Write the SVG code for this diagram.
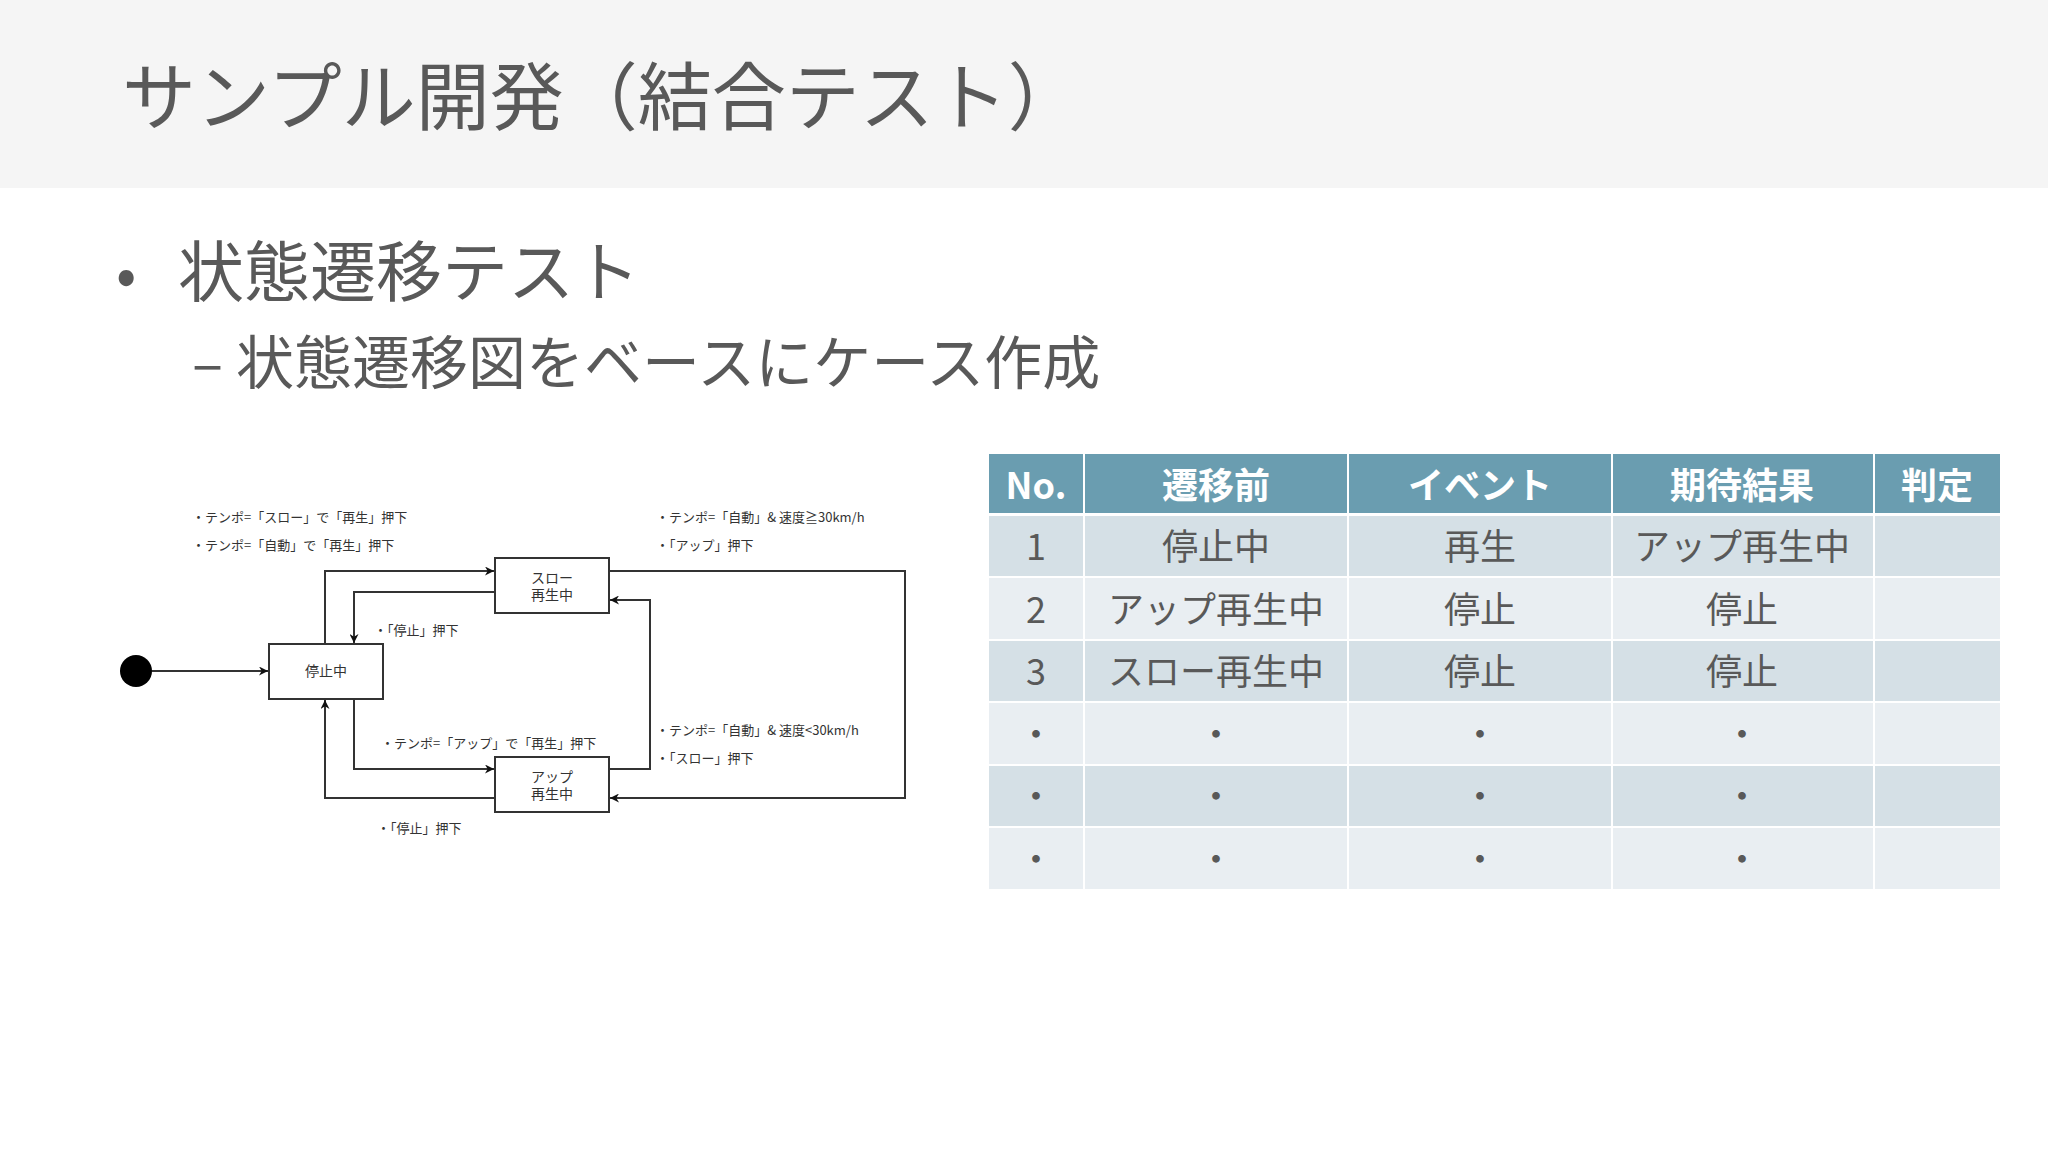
<svg xmlns="http://www.w3.org/2000/svg" width="2048" height="1152" viewBox="0 0 2048 1152">
<defs>
<marker id="ah" viewBox="0 0 10 10" refX="10" refY="5" markerWidth="9" markerHeight="9" orient="auto" markerUnits="userSpaceOnUse"><path d="M0,0 L10,5 L0,10 L3,5 z" fill="#111"/></marker>
<style>
.t{font-family:"Noto Sans CJK JP","Noto Sans",sans-serif;fill:#595959}
.d{font-family:"Noto Sans CJK JP",sans-serif;font-size:13px;fill:#333}
.b{font-family:"Noto Sans CJK JP",sans-serif;font-size:14px;fill:#333;text-anchor:middle}
.box{fill:#fff;stroke:#333;stroke-width:2}
.c{fill:none;stroke:#333;stroke-width:2;marker-end:url(#ah)}
.h{font-family:"Noto Sans CJK JP",sans-serif;font-size:36px;font-weight:bold;fill:#fff;text-anchor:middle}
.r{font-family:"Noto Sans CJK JP",sans-serif;font-size:36px;fill:#595959;text-anchor:middle}
.hd{fill:#6a9db0}.dk{fill:#d5e0e6}.lt{fill:#e9eef2}
</style>
</defs>
<rect width="2048" height="1152" fill="#fff"/>
<rect width="2048" height="188" fill="#f5f5f5"/>
<text class="t" x="122" y="124" font-size="74">サンプル開発（結合テスト）</text>
<text class="t" x="116" y="296" font-size="60">•</text>
<text class="t" x="178" y="296" font-size="66">状態遷移テスト</text>
<text class="t" x="192" y="384" font-size="58">– 状態遷移図をベースにケース作成</text>

<g id="connectors">
<line class="c" x1="152" y1="671" x2="268" y2="671"/>
<polyline class="c" points="325,644 325,571 494,571"/>
<polyline class="c" points="495,592 354,592 354,643"/>
<polyline class="c" points="354,699 354,769 494,769"/>
<polyline class="c" points="495,798 325,798 325,700"/>
<polyline class="c" points="609,571 905,571 905,798 610,798"/>
<polyline class="c" points="609,769 650,769 650,600 610,600"/>
</g>
<g id="start"><circle cx="136" cy="671" r="16" fill="#000"/></g>
<g id="stop"><rect class="box" x="269" y="644" width="114" height="55"/><text class="b" x="326" y="676">停止中</text></g>
<g id="slow"><rect class="box" x="495" y="558" width="114" height="55"/><text class="b" x="552" y="583">スロー</text><text class="b" x="552" y="600">再生中</text></g>
<g id="up"><rect class="box" x="495" y="757" width="114" height="55"/><text class="b" x="552" y="782">アップ</text><text class="b" x="552" y="799">再生中</text></g>
<g id="labels">
<text class="d" x="192" y="522">・テンポ=「スロー」で「再生」押下</text>
<text class="d" x="192" y="550">・テンポ=「自動」で「再生」押下</text>
<text class="d" x="656" y="522">・テンポ=「自動」&amp; 速度≧30km/h</text>
<text class="d" x="656" y="550">・「アップ」押下</text>
<text class="d" x="374" y="635">・「停止」押下</text>
<text class="d" x="381" y="748">・テンポ=「アップ」で「再生」押下</text>
<text class="d" x="656" y="735">・テンポ=「自動」&amp; 速度&lt;30km/h</text>
<text class="d" x="656" y="763">・「スロー」押下</text>
<text class="d" x="377" y="833">・「停止」押下</text>
</g>

<g id="table">
<rect class="hd" x="989" y="454" width="94" height="59"/>
<rect class="hd" x="1085" y="454" width="262" height="59"/>
<rect class="hd" x="1349" y="454" width="262" height="59"/>
<rect class="hd" x="1613" y="454" width="260" height="59"/>
<rect class="hd" x="1875" y="454" width="125" height="59"/>
<text class="h" x="1036" y="499" font-size="32">No.</text>
<text class="h" x="1216" y="499">遷移前</text>
<text class="h" x="1480" y="499">イベント</text>
<text class="h" x="1742" y="499">期待結果</text>
<text class="h" x="1937" y="499">判定</text>
<g class="dk">
<rect x="989" y="516" width="94" height="60"/><rect x="1085" y="516" width="262" height="60"/><rect x="1349" y="516" width="262" height="60"/><rect x="1613" y="516" width="260" height="60"/><rect x="1875" y="516" width="125" height="60"/>
<rect x="989" y="641" width="94" height="60"/><rect x="1085" y="641" width="262" height="60"/><rect x="1349" y="641" width="262" height="60"/><rect x="1613" y="641" width="260" height="60"/><rect x="1875" y="641" width="125" height="60"/>
<rect x="989" y="766" width="94" height="60"/><rect x="1085" y="766" width="262" height="60"/><rect x="1349" y="766" width="262" height="60"/><rect x="1613" y="766" width="260" height="60"/><rect x="1875" y="766" width="125" height="60"/>
</g>
<g class="lt">
<rect x="989" y="578" width="94" height="61"/><rect x="1085" y="578" width="262" height="61"/><rect x="1349" y="578" width="262" height="61"/><rect x="1613" y="578" width="260" height="61"/><rect x="1875" y="578" width="125" height="61"/>
<rect x="989" y="703" width="94" height="61"/><rect x="1085" y="703" width="262" height="61"/><rect x="1349" y="703" width="262" height="61"/><rect x="1613" y="703" width="260" height="61"/><rect x="1875" y="703" width="125" height="61"/>
<rect x="989" y="828" width="94" height="61"/><rect x="1085" y="828" width="262" height="61"/><rect x="1349" y="828" width="262" height="61"/><rect x="1613" y="828" width="260" height="61"/><rect x="1875" y="828" width="125" height="61"/>
</g>
<text class="r" x="1036" y="560" font-size="32">1</text><text class="r" x="1216" y="560">停止中</text><text class="r" x="1480" y="560">再生</text><text class="r" x="1742" y="560">アップ再生中</text>
<text class="r" x="1036" y="623" font-size="32">2</text><text class="r" x="1216" y="623">アップ再生中</text><text class="r" x="1480" y="623">停止</text><text class="r" x="1742" y="623">停止</text>
<text class="r" x="1036" y="685" font-size="32">3</text><text class="r" x="1216" y="685">スロー再生中</text><text class="r" x="1480" y="685">停止</text><text class="r" x="1742" y="685">停止</text>
<text class="r" x="1036" y="748">・</text><text class="r" x="1216" y="748">・</text><text class="r" x="1480" y="748">・</text><text class="r" x="1742" y="748">・</text>
<text class="r" x="1036" y="810">・</text><text class="r" x="1216" y="810">・</text><text class="r" x="1480" y="810">・</text><text class="r" x="1742" y="810">・</text>
<text class="r" x="1036" y="873">・</text><text class="r" x="1216" y="873">・</text><text class="r" x="1480" y="873">・</text><text class="r" x="1742" y="873">・</text>
</g>
</svg>
